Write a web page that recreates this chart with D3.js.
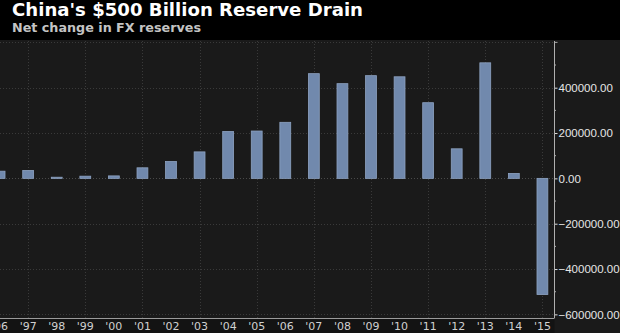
<!DOCTYPE html>
<html>
<head>
<meta charset="utf-8">
<script src="https://cdn.jsdelivr.net/npm/d3@7"></script>
<style>
  body { margin: 0; background: #000; }
  svg { display: block; font-family: "DejaVu Sans", sans-serif; }
</style>
</head>
<body>
<div id="chart"></div>
<script>
// Net change in China's FX reserves, millions USD
var years = [1996, 1997, 1998, 1999, 2000, 2001, 2002, 2003, 2004, 2005,
             2006, 2007, 2008, 2009, 2010, 2011, 2012, 2013, 2014, 2015];
var changes = [31700, 35000, 5100, 9700, 10900, 46600, 74200, 116800, 206700, 208900,
               247300, 461900, 417800, 453100, 448100, 333800, 130400, 509700, 21700, -512700];
var majorTicks = [-600000, -400000, -200000, 0, 200000, 400000];
var gridTicks = [-600000, -400000, -200000, 0, 200000, 400000, 600000];
var minorTicks = [-500000, -300000, -100000, 100000, 300000, 500000];
var gridYears = [1997, 1999, 2001, 2003, 2005, 2007, 2009, 2011, 2013, 2015];

var svgWidth = 620, svgHeight = 333;
var plotTop = 41, plotBottom = 318, axisX = 554.5;

var svg = d3.select("#chart").append("svg")
    .attr("width", svgWidth)
    .attr("height", svgHeight);

// backgrounds
svg.append("rect").attr("width", svgWidth).attr("height", svgHeight).attr("fill", "#000");
svg.append("rect")
    .attr("x", 0).attr("y", plotTop - 1)
    .attr("width", svgWidth).attr("height", svgHeight - plotTop + 1)
    .attr("fill", "#1a1a1a");
svg.append("rect")
    .attr("x", 0).attr("y", plotBottom)
    .attr("width", axisX).attr("height", svgHeight - plotBottom)
    .attr("fill", "#131313");

// scales
var x = d3.scaleBand()
    .domain(years)
    .range([-14.7, 556.7])
    .paddingInner(0.62)
    .paddingOuter(0.31);

var y = d3.scaleLinear()
    .domain([-616000, 606000])
    .range([plotBottom, plotTop]);

// grid lines
var grid = svg.append("g").attr("class", "grid");
grid.selectAll("line.h")
    .data(gridTicks)
    .enter().append("line")
    .attr("class", "h")
    .attr("x1", 0).attr("x2", axisX)
    .attr("y1", d => Math.round(y(d)) + 0.5)
    .attr("y2", d => Math.round(y(d)) + 0.5)
    .attr("stroke", d => d === 0 ? "#4a4a4a" : "#3a3a3a")
    .attr("stroke-dasharray", "1,2");

grid.selectAll("line.v")
    .data(gridYears)
    .enter().append("line")
    .attr("class", "v")
    .attr("x1", d => Math.round(x(d) + x.bandwidth() / 2) + 0.5)
    .attr("x2", d => Math.round(x(d) + x.bandwidth() / 2) + 0.5)
    .attr("y1", plotTop).attr("y2", plotBottom)
    .attr("stroke", "#3a3a3a")
    .attr("stroke-dasharray", "1,2");

// bars
svg.append("g").selectAll("rect")
    .data(years)
    .enter().append("rect")
    .attr("x", (d, i) => x(d))
    .attr("width", x.bandwidth())
    .attr("y", (d, i) => y(Math.max(0, changes[i])))
    .attr("height", (d, i) => Math.abs(y(changes[i]) - y(0)))
    .attr("fill", "#7189ad")
    .attr("stroke", "#8ea3c2")
    .attr("stroke-width", 0.8);

// right axis
var rightAxis = d3.axisRight(y)
    .tickValues(majorTicks)
    .tickSize(3)
    .tickPadding(1)
    .tickFormat(d3.format(".2f"));

var yAxis = svg.append("g")
    .attr("transform", `translate(${axisX}, 0)`)
    .call(rightAxis);
yAxis.select(".domain").remove();
yAxis.selectAll("line").attr("stroke", "#ddd");
yAxis.selectAll("text")
    .attr("fill", "#e6e6e6")
    .attr("font-size", "11.5px")
    .attr("font-family", "'Liberation Sans', Arial, sans-serif");

svg.append("line")
    .attr("x1", axisX).attr("x2", axisX)
    .attr("y1", plotTop).attr("y2", plotBottom)
    .attr("stroke", "#b0b0b0");

// minor ticks
svg.append("g").selectAll("line")
    .data(minorTicks.concat([600000]))
    .enter().append("line")
    .attr("x1", axisX).attr("x2", d => d === 600000 ? axisX + 3 : axisX + 1.5)
    .attr("y1", d => y(d)).attr("y2", d => y(d))
    .attr("stroke", "#aaa");

// bottom axis
var bottomAxis = d3.axisBottom(x)
    .tickSize(0)
    .tickPadding(4)
    .tickFormat(d => "'" + String(d).slice(2));

var xAxis = svg.append("g")
    .attr("transform", `translate(0, ${plotBottom})`)
    .call(bottomAxis);
xAxis.select(".domain")
    .attr("stroke", "#9a9a9a")
    .attr("d", `M0,0.5H${axisX}`);
xAxis.selectAll("text")
    .attr("fill", "#d0d0d0")
    .attr("font-size", "11px")
    .attr("font-family", "'DejaVu Sans', sans-serif");

// titles
svg.append("text")
    .attr("x", 12)
    .attr("y", 16)
    .attr("fill", "#ffffff")
    .attr("font-weight", "bold")
    .attr("font-size", "18px")
    .attr("font-family", "'DejaVu Sans', sans-serif")
    .attr("textLength", 351)
    .attr("lengthAdjust", "spacingAndGlyphs")
    .text("China's $500 Billion Reserve Drain");

svg.append("text")
    .attr("x", 12)
    .attr("y", 32)
    .attr("fill", "#c4c4c4")
    .attr("font-weight", "bold")
    .attr("font-size", "13px")
    .attr("font-family", "'DejaVu Sans', sans-serif")
    .attr("textLength", 189)
    .attr("lengthAdjust", "spacingAndGlyphs")
    .text("Net change in FX reserves");
</script>
</body>
</html>
